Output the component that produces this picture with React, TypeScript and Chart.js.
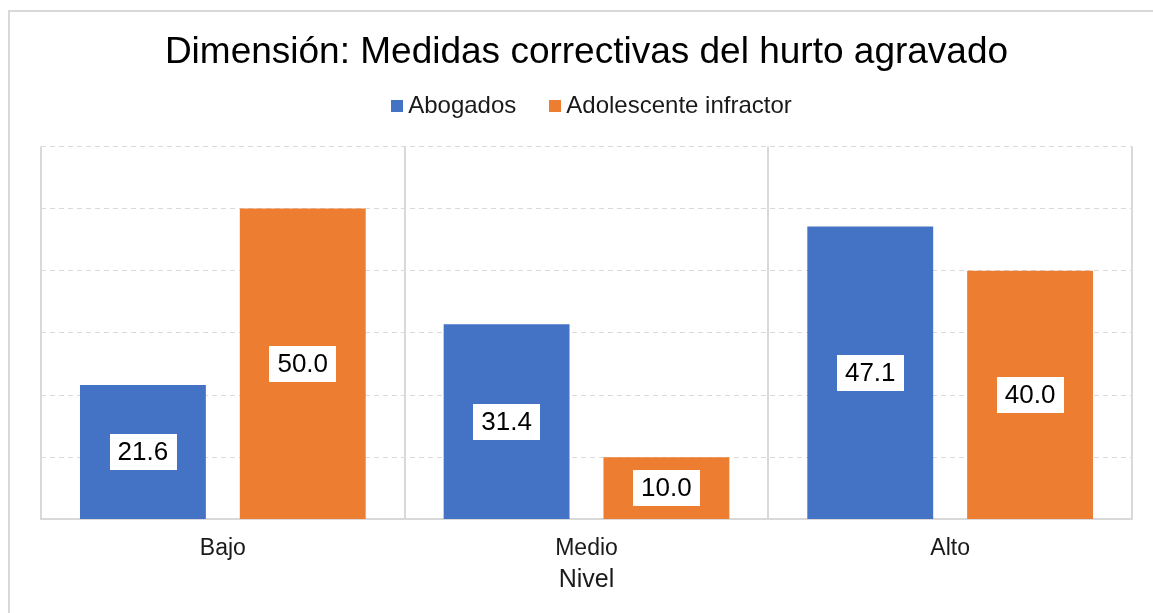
import React, { useEffect, useRef } from "react";
import { Chart, registerables } from "chart.js";

Chart.register(...registerables);

const categories = ["Bajo", "Medio", "Alto"];
const abogados = [21.6, 31.4, 47.1];
const adolescente = [50.0, 10.0, 40.0];
const seriesNames = ["Abogados", "Adolescente infractor"];
const yMin = 0;
const yMax = 60;
const yStep = 10;

const FONT = '"Liberation Sans", Arial, Helvetica, sans-serif';
const BLUE = "#4472C4";
const ORANGE = "#ED7D31";
const GRID = "#d9d9d9";
const TEXT = "#1a1a1a";

const frame = {
  id: "frame",
  beforeDraw(chart: any) {
    const ctx = chart.ctx;
    ctx.save();
    ctx.strokeStyle = GRID;
    ctx.lineWidth = 2;
    ctx.strokeRect(9, 11, 3000, 3000);
    ctx.restore();
  },
};

const customLegend = {
  id: "customLegend",
  afterDraw(chart: any) {
    const ctx = chart.ctx;
    const area = chart.chartArea;
    ctx.save();
    ctx.font = `24px ${FONT}`;
    ctx.textBaseline = "middle";
    ctx.textAlign = "left";
    const box = 12;
    const gapText = 5;
    const gapItem = 33;
    const items = chart.data.datasets.map((ds: any) => ({
      text: ds.label as string,
      color: ds.backgroundColor as string,
      w: ctx.measureText(ds.label).width,
    }));
    const total =
      items.reduce((s: number, it: any) => s + box + gapText + it.w, 0) +
      gapItem * (items.length - 1);
    let x = (area.left + area.right) / 2 + 5 - total / 2;
    const cy = 106;
    items.forEach((it: any) => {
      ctx.fillStyle = it.color;
      ctx.fillRect(Math.round(x), 100, box, box);
      x += box + gapText;
      ctx.fillStyle = TEXT;
      ctx.fillText(it.text, x, cy);
      x += it.w + gapItem;
    });
    ctx.restore();
  },
};

const boxLabels = {
  id: "boxLabels",
  afterDatasetsDraw(chart: any) {
    const ctx = chart.ctx;
    ctx.save();
    ctx.font = `26px ${FONT}`;
    ctx.textAlign = "center";
    ctx.textBaseline = "middle";
    chart.data.datasets.forEach((ds: any, i: number) => {
      const meta = chart.getDatasetMeta(i);
      meta.data.forEach((bar: any, j: number) => {
        const { x, y, base } = bar.getProps(["x", "y", "base"], true);
        const cy = (y + base) / 2;
        const text = Number(ds.data[j]).toFixed(1);
        const w = ctx.measureText(text).width + 16;
        const h = 36;
        ctx.fillStyle = "#ffffff";
        ctx.fillRect(Math.round(x - w / 2), Math.round(cy - h / 2), Math.round(w), h);
        ctx.fillStyle = "#000000";
        ctx.fillText(text, x, cy + 1);
      });
    });
    ctx.restore();
  },
};

export default function App() {
  const ref = useRef<HTMLCanvasElement | null>(null);

  useEffect(() => {
    if (!ref.current) return;
    const chart = new Chart(ref.current, {
      type: "bar",
      data: {
        labels: categories,
        datasets: [
          {
            label: seriesNames[0],
            data: abogados,
            backgroundColor: BLUE,
            categoryPercentage: 0.879,
            barPercentage: 0.7875,
          },
          {
            label: seriesNames[1],
            data: adolescente,
            backgroundColor: ORANGE,
            categoryPercentage: 0.879,
            barPercentage: 0.7875,
          },
        ],
      },
      options: {
        animation: false,
        responsive: true,
        maintainAspectRatio: false,
        layout: { padding: { left: 41, right: 21, top: 0, bottom: 18 } },
        plugins: {
          title: {
            display: true,
            text: "Dimensión: Medidas correctivas del hurto agravado",
            color: "#000000",
            font: { size: 37, family: FONT, weight: "normal" },
            padding: { top: 31, bottom: 71 },
          },
          legend: { display: false },
          tooltip: { enabled: false },
        },
        scales: {
          x: {
            type: "category",
            offset: true,
            grid: {
              display: true,
              offset: true,
              color: GRID,
              lineWidth: 2,
              drawTicks: false,
            },
            border: { display: true, color: GRID, width: 2 },
            ticks: {
              color: TEXT,
              font: { size: 23, family: FONT },
              padding: 15,
            },
            title: {
              display: true,
              text: "Nivel",
              color: TEXT,
              font: { size: 25, family: FONT },
              padding: { top: -12, bottom: 0 },
            },
          },
          y: {
            min: yMin,
            max: yMax,
            ticks: { display: false, stepSize: yStep },
            grid: { color: GRID, lineWidth: 1, drawTicks: false },
            border: { display: false, dash: [5, 4] },
          },
        },
      },
      plugins: [frame, customLegend, boxLabels],
    });
    return () => chart.destroy();
  }, []);

  return (
    <div style={{ position: "absolute", left: 0, top: 0, width: 1153, height: 613, background: "#fff" }}>
      <canvas ref={ref} />
    </div>
  );
}
